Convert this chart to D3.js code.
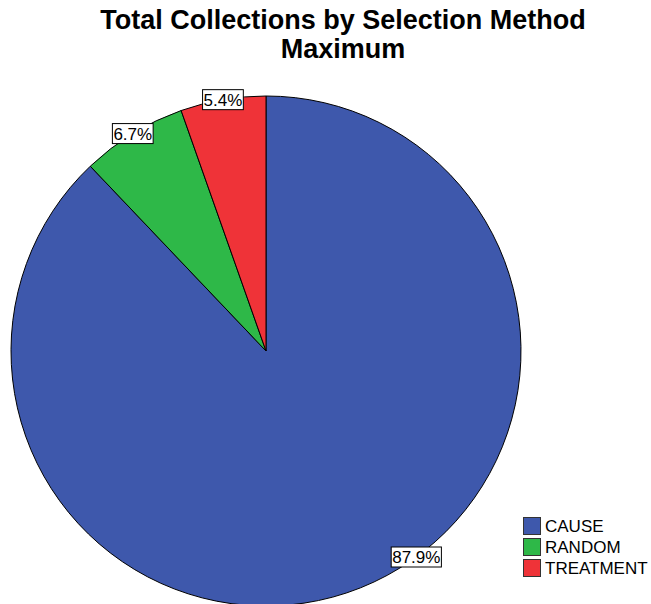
<!DOCTYPE html>
<html><head><meta charset="utf-8">
<script src="https://cdn.jsdelivr.net/npm/d3@7"></script>
<style>body{margin:0;background:#fff}svg{display:block}text{font-family:"Liberation Sans",Arial,sans-serif}</style>
</head><body>
<script>
const categories = ["CAUSE", "RANDOM", "TREATMENT"];
const values = [87.9, 6.7, 5.4];
const labels = ["87.9%", "6.7%", "5.4%"];
const colors = ["#3e58ac", "#2eb848", "#ef3338"];
const titleLines = ["Total Collections by Selection Method", "Maximum"];

const W = 651, H = 604;
const cx = 266, cy = 351, R = 255;
const svg = d3.select("body").append("svg").attr("width", W).attr("height", H);

svg.selectAll("text.title").data(titleLines).join("text")
  .attr("class", "title")
  .attr("x", 343).attr("y", (d, i) => 29 + i * 29)
  .attr("text-anchor", "middle")
  .attr("font-size", 27).attr("font-weight", "bold")
  .text(d => d);

const data = categories.map((c, i) => ({c, v: values[i], label: labels[i], color: colors[i]}));
const pie = d3.pie().sort(null).value(d => d.v);
const arcs = pie(data);
const arc = d3.arc().innerRadius(0).outerRadius(R);
const g = svg.append("g").attr("transform", `translate(${cx},${cy})`);
g.selectAll("path").data(arcs).join("path")
  .attr("d", arc).attr("fill", d => d.data.color)
  .attr("stroke", "#000").attr("stroke-width", 1);

// label positions: mid-angle on the rim, slid along the rim to stay above the bottom limit
const maxY = 557 - cy;
function labelPos(a) {
  let ang = (a.startAngle + a.endAngle) / 2;
  let x = R * Math.sin(ang), y = -R * Math.cos(ang);
  if (y > maxY) {
    const alt = Math.acos(-maxY / R);
    ang = Math.abs(ang - alt) < Math.abs(ang - (2 * Math.PI - alt)) ? alt : 2 * Math.PI - alt;
    x = R * Math.sin(ang); y = -R * Math.cos(ang);
  }
  return [x, y];
}
const lg = g.selectAll("g.lab").data(arcs).join("g").attr("class", "lab")
  .attr("transform", d => `translate(${labelPos(d)})`);
const fs = 17;
lg.each(function(d) {
  const s = d3.select(this);
  const t = s.append("text").attr("text-anchor", "middle").attr("y", fs * 0.36)
    .attr("font-size", fs).text(d.data.label);
  const w = t.node().getComputedTextLength();
  s.insert("rect", "text").attr("x", -w / 2 - 1).attr("y", -10).attr("width", w + 2).attr("height", 20)
    .attr("fill", "#fff").attr("stroke", "#000").attr("stroke-width", 1);
});

const leg = svg.append("g").attr("transform", "translate(523,517)");
const items = leg.selectAll("g").data(data).join("g").attr("transform", (d, i) => `translate(0,${i * 21})`);
items.append("rect").attr("x", 0.5).attr("y", 0.5).attr("width", 17).attr("height", 17)
  .attr("fill", d => d.color).attr("stroke", "#333").attr("stroke-width", 1);
items.append("text").attr("x", 22).attr("y", 15).attr("font-size", 17).text(d => d.c);
</script>
</body></html>
